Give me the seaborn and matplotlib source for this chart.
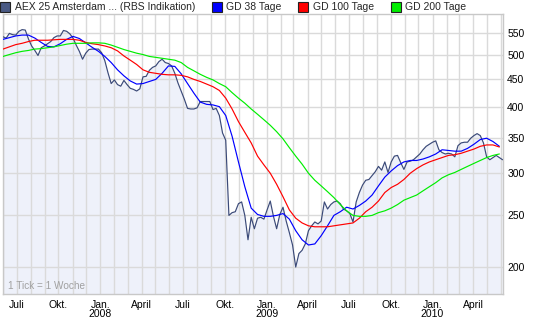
import numpy as np
import pandas as pd
import matplotlib
matplotlib.use("Agg")
import matplotlib.pyplot as plt
import seaborn as sns
from matplotlib.lines import Line2D
from matplotlib.ticker import FixedLocator, FixedFormatter, NullLocator

# ---------------- data (weekly, "1 Tick = 1 Woche") ----------------
start_date = "2007-06-01"
end_date = "2010-06-05"

aex = [541, 538, 549, 546, 545, 554, 558, 557, 536, 520,
       510, 499, 516, 520, 525, 530, 539, 543, 543, 556,
       554, 548, 538, 522, 508, 491, 504, 512, 513, 513,
       513, 505, 488, 463, 442, 449, 440, 437, 448, 440,
       433, 431, 428, 432, 455, 456, 468, 474, 477, 486,
       491, 484, 482, 477, 462, 443, 428, 413, 397, 396,
       396, 398, 409, 409, 409, 409, 395, 397, 385, 357,
       346, 250, 253, 254, 263, 265, 250, 225, 248, 236,
       247, 248, 246, 256, 266, 249, 236, 251, 259, 244,
       232, 220, 200, 212, 215, 221, 234, 239, 243, 241,
       244, 265, 257, 262, 265, 266, 263, 257, 255, 252,
       243, 265, 276, 285, 291, 292, 297, 302, 309, 304,
       315, 301, 315, 323, 324, 314, 305, 315, 316, 318,
       322, 326, 332, 337, 340, 343, 345, 332, 328, 326,
       327, 326, 322, 338, 342, 343, 343, 349, 353, 356,
       353, 342, 322, 318, 321, 324, 321, 318]

# moving averages, read every second week
gd38 = [535, 539, 543, 545, 545, 538, 528, 519, 518, 525,
        535, 542, 537, 527, 517, 508, 497, 484, 469, 457,
        447, 441, 442, 446, 450, 462, 477, 476, 461, 442,
        424, 408, 404, 403, 400, 385, 352, 315, 283, 258,
        251, 249, 249, 250, 252, 246, 234, 225, 220, 221,
        229, 239, 250, 254, 259, 257, 261, 266, 273, 284,
        295, 303, 310, 315, 317, 317, 319, 322, 326, 332,
        331, 330, 330, 334, 340, 347, 349, 344, 337]

gd100 = [513, 518, 523, 526, 530, 533, 533, 533, 534, 535,
         535, 535, 533, 528, 525, 523, 520, 516, 509, 498,
         489, 480, 469, 464, 462, 460, 459, 459, 458, 455,
         450, 446, 441, 436, 429, 415, 396, 375, 358, 342,
         323, 311, 300, 286, 271, 256, 247, 242, 239, 238,
         238, 238, 239, 240, 241, 242, 247, 254, 259, 266,
         276, 282, 286, 292, 300, 306, 311, 315, 318, 321,
         324, 325, 327, 330, 333, 337, 339, 339, 336]

gd200 = [497, 501, 505, 508, 510, 513, 514, 516, 518, 521,
         524, 526, 526, 526, 527, 527, 526, 522, 517, 512,
         508, 504, 501, 497, 495, 493, 491, 489, 484, 474,
         467, 460, 454, 449, 442, 436, 425, 415, 406, 396,
         387, 378, 369, 359, 348, 335, 323, 312, 300, 291,
         284, 277, 270, 262, 255, 250, 249, 249, 250, 253,
         255, 258, 262, 267, 270, 273, 278, 283, 288, 294,
         298, 301, 305, 309, 313, 317, 321, 324, 326]

series_labels = ["AEX 25 Amsterdam ... (RBS Indikation)", "GD 38 Tage",
                 "GD 100 Tage", "GD 200 Tage"]
y_ticks = [200, 250, 300, 350, 400, 450, 500, 550]
month_labels = {1: "Jan.", 4: "April", 7: "Juli", 10: "Okt."}
note_text = "1 Tick = 1 Woche"

# ---------------- build frames ----------------
dates = pd.date_range(start_date, periods=len(aex), freq="7D")
ma_dates = dates[::2][:len(gd38)]
df_main = pd.DataFrame({"date": dates, "value": aex})
df_ma = pd.concat([
    pd.DataFrame({"date": ma_dates, "value": gd38, "series": series_labels[1]}),
    pd.DataFrame({"date": ma_dates, "value": gd100, "series": series_labels[2]}),
    pd.DataFrame({"date": ma_dates, "value": gd200, "series": series_labels[3]}),
])

colors = {series_labels[0]: "#3b4a78", series_labels[1]: "#0000ff",
          series_labels[2]: "#ff0000", series_labels[3]: "#00ee00"}

sns.set_theme(style="white")
plt.rcParams["font.family"] = ["Liberation Sans", "DejaVu Sans"]

fig = plt.figure(figsize=(5.45, 3.27), dpi=100)
ax = fig.add_axes([3 / 545, 33 / 327, 500 / 545, 280 / 327])
ax.set_facecolor("white")
ax.set_yscale("log")

ax.fill_between(df_main["date"], df_main["value"], 100, color="#eef1fa", lw=0, zorder=0)
sns.lineplot(data=df_main, x="date", y="value", ax=ax, color=colors[series_labels[0]],
             lw=0.85, zorder=4, legend=False)
sns.lineplot(data=df_ma, x="date", y="value", hue="series", ax=ax,
             palette={k: colors[k] for k in series_labels[1:]}, lw=0.85,
             zorder=5, legend=False)

ax.set_ylim(178, 597)
ax.set_xlim(pd.Timestamp(start_date), pd.Timestamp(end_date))

# x axis: monthly grid, quarterly labels
months = pd.date_range(start_date, end_date, freq="MS")
xlabels = []
for m in months:
    if m.month in month_labels:
        lab = month_labels[m.month]
        if m.month == 1:
            lab += "\n" + str(m.year)
        xlabels.append(lab)
    else:
        xlabels.append("")
ax.set_xticks(months, labels=xlabels)
for t in ax.get_xticklabels():
    t.set_linespacing(0.95)
ax.xaxis.set_minor_locator(NullLocator())

# y axis right, log ticks
ax.yaxis.tick_right()
ax.yaxis.set_major_locator(FixedLocator(y_ticks))
ax.yaxis.set_major_formatter(FixedFormatter([str(v) for v in y_ticks]))
ax.yaxis.set_minor_locator(NullLocator())
ax.set_xlabel("")
ax.set_ylabel("")

ax.tick_params(axis="x", length=0, pad=4, labelsize=7.5, colors="black")
ax.tick_params(axis="y", length=0, pad=3, labelsize=7.5, colors="black")
ax.grid(True, which="major", color="#dadada", lw=1.0, zorder=1)
ax.set_axisbelow(True)
for s in ax.spines.values():
    s.set_color("#c8c8c8")
    s.set_linewidth(1.0)

ax.text(0.01, 0.027, note_text, transform=ax.transAxes, fontsize=7.2,
        color="#a0a0a0", ha="left", va="center", zorder=6)

handles = [Line2D([], [], marker="s", ls="", markersize=6.5,
                  markerfacecolor=(colors[l] if i else "#4a5a84"),
                  markeredgecolor="#222222", markeredgewidth=0.8)
           for i, l in enumerate(series_labels)]
fig.legend(handles, series_labels, loc="center left", bbox_to_anchor=(0.0, 1 - 7.5 / 327),
           ncol=4, frameon=False, fontsize=7.5, handlelength=0.6, handletextpad=0.6,
           columnspacing=1.8, borderpad=0.2, borderaxespad=0.0)

fig.savefig("out.png", dpi=100, facecolor="white")
